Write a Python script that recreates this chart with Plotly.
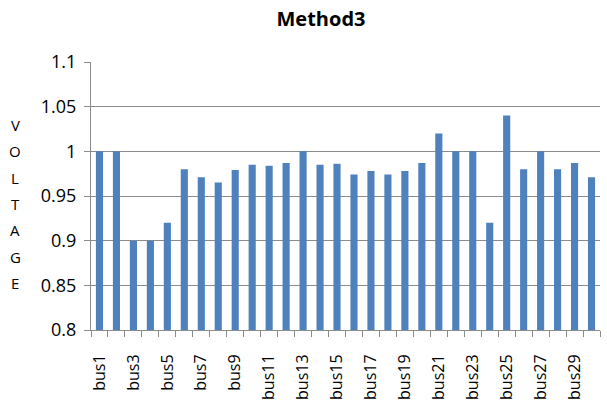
import plotly.graph_objects as go

buses = [f"bus{i}" for i in range(1, 31)]
voltage = [1.0, 1.0, 0.9, 0.9, 0.92, 0.98, 0.971, 0.965, 0.979, 0.985,
           0.984, 0.987, 1.0, 0.985, 0.986, 0.974, 0.978, 0.974, 0.978, 0.987,
           1.02, 1.0, 1.0, 0.92, 1.04, 0.98, 1.0, 0.98, 0.987, 0.971]
tick_text = [b if i % 2 == 0 else "" for i, b in enumerate(buses)]
y_ticks = [0.8, 0.85, 0.9, 0.95, 1.0, 1.05, 1.1]
y_tick_text = ["0.8", "0.85", "0.9", "0.95", "1", "1.05", "1.1"]
y_title = list("VOLTAGE")

W, H = 607, 418
fig = go.Figure(go.Bar(x=buses, y=voltage, marker_color="#4F81BD",
                       marker_line_width=0))

grid = "#8C8C8C"
font = "Open Sans"
fig.update_layout(
    width=W, height=H,
    margin=dict(l=91, r=7, t=62, b=88),
    paper_bgcolor="white", plot_bgcolor="white",
    bargap=0.58,
    showlegend=False,
    title=dict(text="<b>Method3</b>", x=321 / W, xanchor="center",
               y=1 - 19 / H, yanchor="middle",
               font=dict(family=font, size=20, color="black")),
    xaxis=dict(type="category", tickvals=buses, ticktext=tick_text,
               tickangle=-90, tickson="boundaries", ticks="outside",
               ticklen=6, tickcolor=grid, showline=True, linecolor=grid,
               showgrid=False, ticklabelstandoff=17,
               tickfont=dict(family=font, size=16, color="black")),
    yaxis=dict(range=[0.8, 1.1], tickvals=y_ticks, ticktext=y_tick_text,
               ticks="outside", ticklen=6, tickcolor=grid, showline=True,
               linecolor=grid, showgrid=True, gridcolor=grid, zeroline=False,
               ticklabelstandoff=4,
               tickfont=dict(family=font, size=18, color="black")),
)

for i, ch in enumerate(y_title):
    fig.add_annotation(text=ch, xref="paper", yref="paper",
                       x=-76 / (W - 98), y=1 - (125 + i * 26.3 - 62) / (H - 150),
                       showarrow=False, xanchor="center", yanchor="middle",
                       font=dict(family=font, size=15, color="black"))

fig.write_html("out.html", config={"displayModeBar": False},
               post_script="document.body.style.margin='0';")
